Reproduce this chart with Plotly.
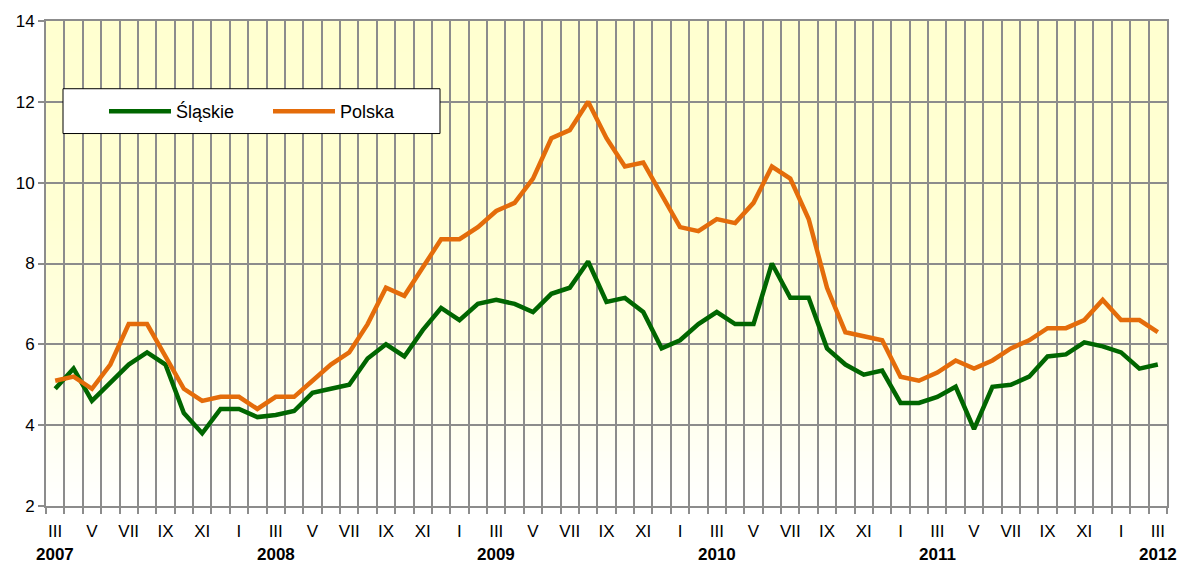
import plotly.graph_objects as go

# ---- data ----
months = [
    "III", "IV", "V", "VI", "VII", "VIII", "IX", "X", "XI", "XII",
    "I", "II", "III", "IV", "V", "VI", "VII", "VIII", "IX", "X", "XI", "XII",
    "I", "II", "III", "IV", "V", "VI", "VII", "VIII", "IX", "X", "XI", "XII",
    "I", "II", "III", "IV", "V", "VI", "VII", "VIII", "IX", "X", "XI", "XII",
    "I", "II", "III", "IV", "V", "VI", "VII", "VIII", "IX", "X", "XI", "XII",
    "I", "II", "III",
]
years = ["2007", "2008", "2009", "2010", "2011", "2012"]

slaskie = [4.9, 5.4, 4.6, 5.05, 5.5, 5.8, 5.5, 4.3, 3.8, 4.4,
           4.4, 4.2, 4.25, 4.35, 4.8, 4.9, 5.0, 5.65, 6.0, 5.7,
           6.35, 6.9, 6.6, 7.0, 7.1, 7.0, 6.8, 7.25, 7.4, 8.05,
           7.05, 7.15, 6.8, 5.9, 6.1, 6.5, 6.8, 6.5, 6.5, 8.0,
           7.15, 7.15, 5.9, 5.5, 5.25, 5.35, 4.55, 4.55, 4.7, 4.95,
           3.9, 4.95, 5.0, 5.2, 5.7, 5.75, 6.05, 5.95, 5.8, 5.4, 5.5]

polska = [5.1, 5.2, 4.9, 5.5, 6.5, 6.5, 5.7, 4.9, 4.6, 4.7,
          4.7, 4.4, 4.7, 4.7, 5.1, 5.5, 5.8, 6.5, 7.4, 7.2,
          7.9, 8.6, 8.6, 8.9, 9.3, 9.5, 10.1, 11.1, 11.3, 12.0,
          11.1, 10.4, 10.5, 9.7, 8.9, 8.8, 9.1, 9.0, 9.5, 10.4,
          10.1, 9.1, 7.4, 6.3, 6.2, 6.1, 5.2, 5.1, 5.3, 5.6,
          5.4, 5.6, 5.9, 6.1, 6.4, 6.4, 6.6, 7.1, 6.6, 6.6, 6.3]

series_names = ["Śląskie", "Polska"]
y_ticks = [2, 4, 6, 8, 10, 12, 14]

# ---- style ----
GREEN = "#006600"
ORANGE = "#E46C0A"
GRID = "#8C8C8C"
FONT = "Liberation Sans, Arial, sans-serif"

n = len(months)
x = list(range(n))

fig = go.Figure()
fig.add_trace(go.Scatter(x=x, y=slaskie, mode="lines", name=series_names[0],
                         line=dict(color=GREEN, width=4.5)))
fig.add_trace(go.Scatter(x=x, y=polska, mode="lines", name=series_names[1],
                         line=dict(color=ORANGE, width=4.5)))

# background vertical gradient (light yellow at top -> white at bottom)
stops = [(0.0, 255), (0.35, 224), (0.6, 211), (1.0, 208)]
def blue_at(t):
    for (t0, b0), (t1, b1) in zip(stops[:-1], stops[1:]):
        if t0 <= t <= t1:
            return b0 + (b1 - b0) * (t - t0) / (t1 - t0)
    return stops[-1][1]

shapes = []
nb = 80
for k in range(nb):
    y0 = k / nb
    y1 = (k + 1) / nb
    b = round(blue_at((y0 + y1) / 2))
    shapes.append(dict(type="rect", xref="paper", yref="paper", x0=0, x1=1,
                       y0=y0, y1=y1 + 0.002, layer="below", line=dict(width=0),
                       fillcolor=f"rgb(255,255,{b})"))

# legend box
L, R, T, B = 46, 14, 19, 57
W, H = 1181, 563
pw, ph = W - L - R, H - T - B
bx0, bx1, by0, by1 = 63, 440, 87, 132
shapes.append(dict(type="rect", xref="paper", yref="paper",
                   x0=(bx0 - L) / pw, x1=(bx1 - L) / pw,
                   y0=(H - B - by1) / ph, y1=(H - B - by0) / ph,
                   layer="above", fillcolor="white",
                   line=dict(color="black", width=1)))

# year annotations under each March
annotations = []
year_idx = [i for i, m in enumerate(months) if m == "III"]
for yi, yr in zip(year_idx, years):
    annotations.append(dict(x=yi, y=-0.101, xref="x", yref="paper", text=f"<b>{yr}</b>",
                            showarrow=False, xanchor="center", yanchor="middle",
                            font=dict(size=17, color="black", family=FONT)))

fig.update_layout(
    width=W, height=H,
    margin=dict(l=L, r=R, t=T, b=B, pad=0),
    paper_bgcolor="white", plot_bgcolor="white",
    font=dict(family=FONT, size=17, color="black"),
    shapes=shapes, annotations=annotations,
    showlegend=True,
    legend=dict(orientation="h", x=(110 - L - 6) / pw, xanchor="left",
                y=(H - B - 110) / ph, yanchor="middle",
                bgcolor="rgba(0,0,0,0)", borderwidth=0,
                font=dict(size=18, family=FONT, color="black"),
                entrywidth=87, entrywidthmode="pixels", itemwidth=62),
    xaxis=dict(range=[-0.5, n - 0.5], tickmode="array",
               tickvals=x[::2], ticktext=months[::2],
               ticks="", showgrid=False, zeroline=False,
               showline=True, linecolor=GRID, linewidth=2, mirror=True,
               ticklabelstandoff=9,
               tickfont=dict(size=17, family=FONT, color="black"),
               minor=dict(tickmode="array", tickvals=[i - 0.5 for i in range(n + 1)],
                          ticks="outside", ticklen=6, tickwidth=1.5, tickcolor=GRID,
                          showgrid=True, gridcolor=GRID, gridwidth=2)),
    yaxis=dict(range=[y_ticks[0], y_ticks[-1]], tickmode="array", tickvals=y_ticks,
               ticks="outside", ticklen=6, tickwidth=1.5, tickcolor=GRID,
               showgrid=True, gridcolor=GRID, gridwidth=2, zeroline=False,
               showline=True, linecolor=GRID, linewidth=2, mirror=True,
               tickfont=dict(size=17, family=FONT, color="black")),
)

fig.write_html("out.html", config={"displayModeBar": False},
               post_script="document.body.style.margin='0';document.body.style.padding='0';")
